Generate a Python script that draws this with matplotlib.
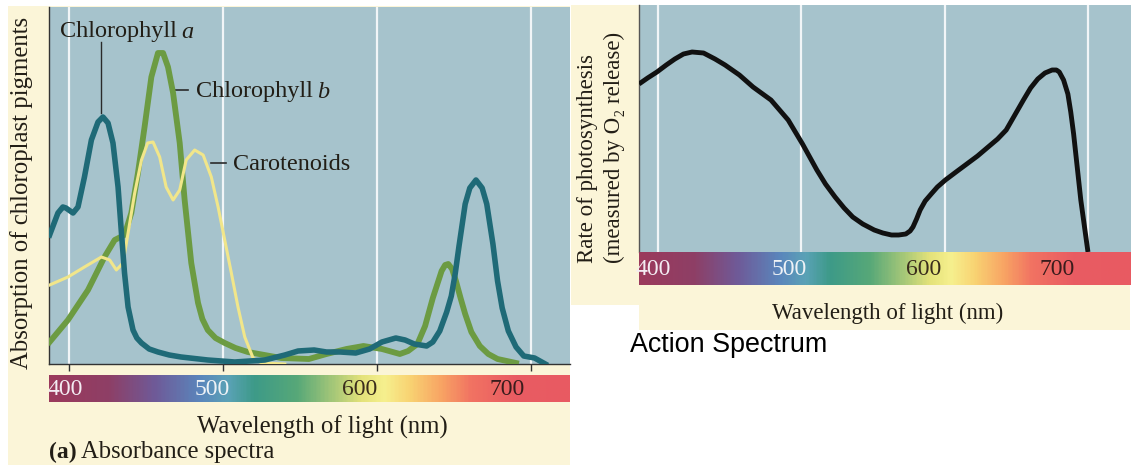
import matplotlib.pyplot as plt
import numpy as np
from matplotlib.colors import LinearSegmentedColormap
from matplotlib.patches import Rectangle

# Absorbance spectra (relative units)
chl_a_nm = [387.4, 392.8, 396, 398, 402.6, 405.8, 410, 414.5, 418.8, 422, 425.3, 428.5, 431.8, 434,
            436, 438.3, 441.5, 444, 447, 452, 457.7, 465, 472.7, 490, 507.5, 527, 540, 548.6, 559,
            567, 576, 586, 595, 603, 612, 618, 624, 628, 632, 636, 640.5, 645, 648, 650.5, 653, 657,
            660, 664, 668, 671, 675, 678, 681, 685, 690, 695, 702, 709]
chl_a_val = [129, 151, 157, 156, 151, 157, 187, 224, 242, 247, 241, 221, 177, 131,
             91, 57, 34, 26, 21, 15, 12, 9, 7, 4, 2, 4, 9, 13, 14,
             12, 12, 11, 15, 22, 26, 24, 20, 19, 18, 22, 33, 52, 68, 90, 118, 160,
             176, 184, 176, 160, 120, 83, 56, 33, 17, 8, 6, 0]

chl_b_nm = [387.4, 399.3, 412.3, 423, 429.6, 436, 440.4, 444.7, 449, 453.4, 457.7, 461, 464.2,
            467.5, 471.8, 475, 479.3, 483.7, 486.5, 490, 495, 501, 508, 516, 537.6, 555.6, 567, 580,
            591, 603, 614.6, 620, 626, 631, 636, 641.7, 644, 646, 648.5, 651, 654, 657, 661, 666.5,
            672, 678, 690]
chl_b_val = [22, 44, 74, 107, 124, 129, 151, 191, 237, 287, 311, 311, 297,
             271, 221, 164, 101, 61, 45, 34, 26, 21, 16, 12, 6, 5, 10, 15,
             18, 15, 10, 13, 20, 38, 66, 93, 99, 100, 95, 83, 66, 50, 32, 18,
             10, 5, 1]

car_nm = [387.4, 399.3, 410, 421, 426.4, 430.7, 435, 438.3, 442.6, 447, 451, 454.5, 458.8, 463,
          467.5, 471.8, 476, 481.5, 487, 492.3, 496.7, 501, 505.3, 509.6, 514, 519.4, 525, 540]
car_val = [79, 87, 97, 107, 104, 94, 101, 131, 171, 204, 221, 222, 207, 177,
           164, 174, 204, 214, 209, 187, 157, 124, 91, 57, 27, 6, 1, 0]

# Action spectrum (relative rate of O2 release)
act_nm = [387, 393, 399.5, 406, 412, 418, 424, 432, 440, 447, 457, 466.5, 479, 491, 501, 511,
          517, 523.7, 530, 536, 543, 551, 557, 563, 568, 573, 576, 578, 580.5, 583, 586.5, 590.7,
          595, 600.6, 608, 615.5, 623, 630.4, 637, 643, 649, 655, 660, 665, 670, 675, 678, 680,
          683, 686, 688, 690, 692.5, 695, 697.5, 700]
act_val = [168, 174, 180, 187, 193, 198, 200, 199, 193, 187, 177, 165, 152, 132, 108, 82,
           68, 55, 44, 35, 28, 22, 19, 17, 17, 18, 21, 25, 33, 42, 51, 58,
           65, 72, 80, 88, 96, 105, 113, 122, 137, 152, 164, 173, 179, 182, 182, 180,
           172, 158, 140, 118, 85, 52, 26, 0]

grid_nm = [400, 500, 600, 700]
tick_labels = ['400', '500', '600', '700']
label_pos_a = [397.6, 493, 588.6, 684]
label_pos_b = [397, 491.4, 585.7, 678.8]
label_colors = ['#f3ecf2', '#eef2f6', '#3a2c1c', '#3a1c1c']

# visible-light colour strip
spec_stops = [(387, '#9b3a5c'), (425, '#8e3f66'), (455, '#6f5a98'), (485, '#5a86bc'),
              (503, '#5aa2b6'), (520, '#3d9a88'), (548, '#57a878'), (572, '#a7c878'),
              (590, '#e4e27a'), (605, '#f6f08e'), (622, '#f9d272'), (642, '#f8a464'),
              (662, '#f17262'), (690, '#e95c62'), (730, '#e85a62')]
lo, hi = spec_stops[0][0], spec_stops[-1][0]
spec_cmap = LinearSegmentedColormap.from_list(
    'spec', [((w - lo) / (hi - lo), c) for w, c in spec_stops])

BG = '#a6c3cc'
CREAM = '#fbf5d8'
INK = '#221e16'
SERIF = ['Liberation Serif', 'DejaVu Serif']

fig = plt.figure(figsize=(11.33, 4.68), dpi=100)
W, H = 1133, 468


def px_rect(x0, y0, x1, y1):
    return [x0 / W, 1 - y1 / H, (x1 - x0) / W, (y1 - y0) / H]


# cream paper behind the panels
for (x0, y0, x1, y1) in [(8, 6, 570, 465), (571, 5, 639, 305), (639, 280, 1130, 330)]:
    r = px_rect(x0, y0, x1, y1)
    fig.patches.append(Rectangle((r[0], r[1]), r[2], r[3], transform=fig.transFigure,
                                 facecolor=CREAM, edgecolor='none', zorder=-5))


def spectrum_bar(rect, xlim, positions):
    bx = fig.add_axes(rect)
    grad = np.linspace(lo, hi, 400)[None, :]
    bx.imshow(grad, cmap=spec_cmap, aspect='auto', extent=[lo, hi, 0, 1], vmin=lo, vmax=hi)
    bx.set_xlim(*xlim)
    bx.set_ylim(0, 1)
    for p, t, c in zip(positions, tick_labels, label_colors):
        bx.text(p, 0.47, t, ha='center', va='center', fontsize=17, color=c, family=SERIF)
    bx.axis('off')
    return bx


def curve_label(axis, x, y, word, letter, size=17.5):
    t = axis.text(x, y, word, fontsize=size, family=SERIF, color=INK, va='center')
    if letter:
        axis.annotate(letter, xy=(1, 0), xycoords=t, xytext=(3, 0), textcoords='offset points',
                      fontsize=size, family=SERIF, style='italic', color=INK, va='bottom')


# ---- (a) absorbance spectra ----
ax = fig.add_axes(px_rect(49, 7, 570, 364))
ax.set_facecolor(BG)
ax.set_xlim(387, 725)
ax.set_ylim(0, 357)
for g in grid_nm:
    ax.axvline(g, color='white', lw=1.6, alpha=0.85, zorder=1)
ax.plot(chl_b_nm, chl_b_val, color='#6c9b42', lw=4.2, solid_joinstyle='round', zorder=3)
ax.plot(car_nm, car_val, color='#f1e68a', lw=2.2, solid_joinstyle='round', zorder=4)
ax.plot(chl_a_nm, chl_a_val, color='#1f6a77', lw=4.0, solid_joinstyle='round', zorder=5)

curve_label(ax, 394, 332, 'Chlorophyll', 'a')
ax.plot([421, 421], [322, 251], color='#2a2a2a', lw=1)
ax.plot([468.6, 477.5], [274, 274], color='#2a2a2a', lw=1.2)
curve_label(ax, 482.4, 272, 'Chlorophyll', 'b')
ax.plot([492, 502], [201, 201], color='#2a2a2a', lw=1.2)
curve_label(ax, 506.6, 199, 'Carotenoids', None)

ax.set_xticks(grid_nm)
ax.set_xticklabels([])
ax.set_yticks([])
ax.tick_params(axis='x', direction='out', length=5, width=1, color='#333333')
for s in ['top', 'right']:
    ax.spines[s].set_visible(False)
for s in ['left', 'bottom']:
    ax.spines[s].set_color('#333333')
    ax.spines[s].set_linewidth(1)

spectrum_bar(px_rect(49, 375, 570, 402), (387, 725), label_pos_a)

fig.text(22 / W, 1 - 193 / H, 'Absorption of chloroplast pigments', rotation=90,
         ha='center', va='center', fontsize=17.8, family=SERIF, color=INK)
fig.text(322 / W, 1 - 427 / H, 'Wavelength of light (nm)', ha='center', va='center',
         fontsize=17.8, family=SERIF, color=INK)
fig.text(49 / W, 1 - 452 / H, '(a)', ha='left', va='center', fontsize=17,
         family=SERIF, weight='bold', color=INK)
fig.text(81 / W, 1 - 452 / H, 'Absorbance spectra', ha='left', va='center', fontsize=17.7,
         family=SERIF, color=INK)

# ---- action spectrum ----
ax2 = fig.add_axes(px_rect(639, 5, 1131, 252))
ax2.set_facecolor(BG)
ax2.set_xlim(387, 730)
ax2.set_ylim(0, 247)
for g in grid_nm:
    ax2.axvline(g, color='white', lw=1.6, alpha=0.85, zorder=1)
ax2.plot(act_nm, act_val, color='#111111', lw=3.5, solid_joinstyle='round',
         solid_capstyle='butt', zorder=3)
ax2.set_xticks([])
ax2.set_yticks([])
for s in ['top', 'right', 'bottom']:
    ax2.spines[s].set_visible(False)
ax2.spines['left'].set_color('#555555')
ax2.spines['left'].set_linewidth(1)

spectrum_bar(px_rect(639, 252, 1131, 285), (387, 730), label_pos_b)

fig.text(587 / W, 1 - 263 / H, 'Rate of photosynthesis', rotation=90, ha='center',
         va='bottom', fontsize=16.5, family=SERIF, color=INK)
fig.text(614 / W, 1 - 263 / H, '(measured by O\u2082 release)', rotation=90, ha='center',
         va='bottom', fontsize=16.5, family=SERIF, color=INK)
fig.text(888 / W, 1 - 313 / H, 'Wavelength of light (nm)', ha='center', va='center',
         fontsize=16.5, family=SERIF, color=INK)
fig.text(630 / W, 1 - 345 / H, 'Action Spectrum', ha='left', va='center',
         fontsize=19.4, family='Liberation Sans', color='black')

fig.savefig('out.png', dpi=100)
